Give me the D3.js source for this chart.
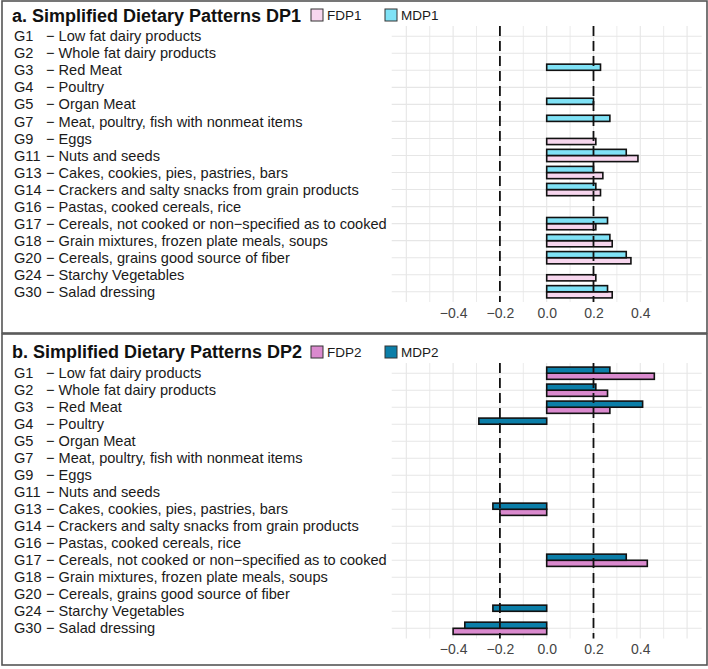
<!DOCTYPE html>
<html><head><meta charset="utf-8">
<script src="https://cdn.jsdelivr.net/npm/d3@7"></script>
<style>body{margin:0;background:#fff}svg{display:block}</style>
</head><body>
<script>
const codes = ["G1","G2","G3","G4","G5","G7","G9","G11","G13","G14","G16","G17","G18","G20","G24","G30"];
const names = ["Low fat dairy products","Whole fat dairy products","Red Meat","Poultry","Organ Meat","Meat, poultry, fish with nonmeat items","Eggs","Nuts and seeds","Cakes, cookies, pies, pastries, bars","Crackers and salty snacks from grain products","Pastas, cooked cereals, rice","Cereals, not cooked or non\u2212specified as to cooked","Grain mixtures, frozen plate meals, soups","Cereals, grains good source of fiber","Starchy Vegetables","Salad dressing"];
// null = not shown (|loading| < 0.2)
const FDP1 = [null,null,null,null,null,null,0.21,0.39,0.24,0.23,null,0.21,0.28,0.36,0.21,0.28];
const MDP1 = [null,null,0.23,null,0.20,0.27,null,0.34,0.20,0.21,null,0.26,0.27,0.34,null,0.26];
const FDP2 = [0.46,0.26,0.27,null,null,null,null,null,-0.20,null,null,0.43,null,null,null,-0.40];
const MDP2 = [0.27,0.21,0.41,-0.29,null,null,null,null,-0.23,null,null,0.34,null,null,-0.23,-0.35];
const ticks = [-0.4,-0.2,0.0,0.2,0.4];
const refLines = [-0.2,0.2];

const W=708,H=669;
const svg=d3.select("body").append("svg").attr("width",W).attr("height",H);
const font="Liberation Sans, Arial, sans-serif";

const panels=[
 {title:"a. Simplified Dietary Patterns DP1", top:26, bottom:302, tickY:314, titleY:16, legY:9,
  series:[{key:"FDP1",vals:FDP1,color:"#F7D6EE",pos:1},{key:"MDP1",vals:MDP1,color:"#7FE2F6",pos:0}]},
 {title:"b. Simplified Dietary Patterns DP2", top:363, bottom:638.5, tickY:650, titleY:352, legY:346,
  series:[{key:"FDP2",vals:FDP2,color:"#DA8ACE",pos:1},{key:"MDP2",vals:MDP2,color:"#0B7EA8",pos:0}]}
];

const x=d3.scaleLinear().domain([-0.6625,0.6625]).range([391.7,701.7]);

panels.forEach(p=>{
  const g=svg.append("g");
  const y=d3.scalePoint().domain(codes).range([p.top,p.bottom]).padding(0.6);
  const step=y.step();
  const minor=d3.range(-6,7).map(d=>d/10);
  g.selectAll(".vg").data(minor).join("line")
    .attr("x1",d=>x(d)).attr("x2",d=>x(d)).attr("y1",p.top).attr("y2",p.bottom)
    .attr("stroke","#e6e6e6").attr("stroke-width",d=>Math.abs(Math.round(d*10))%2===0?1.1:0.8);
  g.selectAll(".hg").data(codes).join("line")
    .attr("x1",x.range()[0]).attr("x2",x.range()[1]).attr("y1",d=>y(d)).attr("y2",d=>y(d))
    .attr("stroke","#e6e6e6").attr("stroke-width",1.1);
  const bh=step*0.36;
  p.series.forEach(s=>{
    const data=codes.map((c,i)=>({c,v:s.vals[i]})).filter(d=>d.v!==null);
    g.selectAll(null).data(data).join("rect")
      .attr("x",d=>x(Math.min(0,d.v))).attr("width",d=>Math.abs(x(d.v)-x(0)))
      .attr("y",d=>y(d.c)+(s.pos===0?-bh:0)).attr("height",bh)
      .attr("fill",s.color).attr("stroke","#111").attr("stroke-width",1.6);
  });
  g.selectAll(".rl").data(refLines).join("line")
    .attr("x1",d=>x(d)).attr("x2",d=>x(d)).attr("y1",p.top).attr("y2",p.bottom)
    .attr("stroke","#111").attr("stroke-width",1.8).attr("stroke-dasharray","10,5");
  const ax=d3.axisBottom(x).tickValues(ticks).tickSize(0).tickFormat(d3.format(".1f"));
  const axg=g.append("g").attr("transform",`translate(0,${p.tickY-9})`).call(ax);
  axg.select(".domain").remove();
  axg.selectAll("text").attr("font-family",font).attr("font-size",14).attr("fill","#444");
  g.selectAll(".code").data(codes).join("text")
    .attr("x",14).attr("y",d=>y(d)).attr("dy","0.35em").text(d=>d)
    .attr("font-family",font).attr("font-size",14.6).attr("fill","#1a1a1a");
  g.selectAll(".nm").data(codes).join("text")
    .attr("x",46).attr("y",d=>y(d)).attr("dy","0.35em").text((d,i)=>"\u2212 "+names[i])
    .attr("font-family",font).attr("font-size",14.6).attr("fill","#1a1a1a");
  g.append("text").attr("x",12).attr("y",p.titleY).attr("dy","0.35em").text(p.title)
    .attr("font-family",font).attr("font-size",18).attr("font-weight","bold").attr("fill","#111");
  const legX=[311,385];
  p.series.forEach((s,i)=>{
    g.append("rect").attr("x",legX[i]).attr("y",p.legY).attr("width",12).attr("height",12)
      .attr("fill",s.color).attr("stroke","#333").attr("stroke-width",1);
    g.append("text").attr("x",legX[i]+16).attr("y",p.legY+6).attr("dy","0.35em").text(s.key)
      .attr("font-family",font).attr("font-size",13.5).attr("fill","#1a1a1a");
  });
});
svg.append("rect").attr("x",2).attr("y",1).attr("width",705).attr("height",332)
  .attr("fill","none").attr("stroke","#555").attr("stroke-width",1.6);
svg.append("rect").attr("x",2).attr("y",334).attr("width",705).attr("height",331)
  .attr("fill","none").attr("stroke","#555").attr("stroke-width",1.6);
</script>
</body></html>
